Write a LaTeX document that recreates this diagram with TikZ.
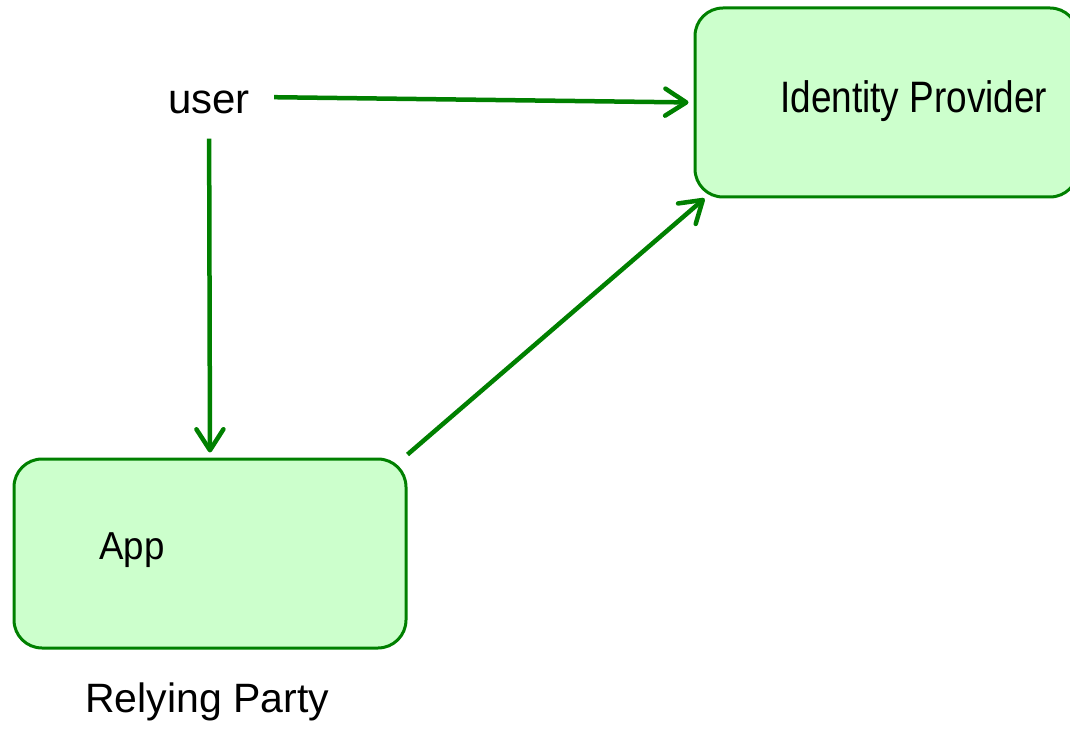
\documentclass[tikz,border=0pt]{standalone}
\usepackage{fontspec}
\setmainfont{Liberation Sans}
\usetikzlibrary{arrows.meta}
\definecolor{boxgreen}{RGB}{0,128,0}
\definecolor{boxfill}{RGB}{204,255,204}
\tikzset{
	party/.style={draw=boxgreen, fill=boxfill, line width=3pt, rounded corners=28pt, minimum height=189pt},
	lbl/.style={inner sep=0pt, anchor=base west, font=\fontsize{41}{48}\selectfont},
	flow/.style={draw=boxgreen, line width=4.5pt, -{Straight Barb[length=21pt,width=27pt,line cap=round,line join=round]}},
}
\begin{document}
\begin{tikzpicture}[x=1pt,y=-1pt]
	\useasboundingbox (0,0) rectangle (1070,735);
	\node[party, minimum width=392pt] (app) at (210,553.5) {};
	\node[party, minimum width=383pt] (idp) at (886.5,102.5) {};

	\node[lbl, font=\fontsize{42}{50}\selectfont] (user) at (168,114) {user};
	\node[lbl, xscale=.94, font=\fontsize{39}{46}\selectfont] (applbl) at (99,559) {App};
	\node[lbl, xscale=.84, font=\fontsize{44}{52}\selectfont] (idplbl) at (780,113) {Identity Provider};
	\node[lbl] (rp) at (85,712) {Relying Party};

	\draw[flow, shorten <=24pt, shorten >=5pt] ([yshift=6]user.east) -- (idp.west);
	\draw[flow, shorten <=24pt, shorten >=5pt] (user.south) -- (app.north);
	\draw[flow] ([yshift=3]app.north east) -- ([xshift=11]idp.south west);
\end{tikzpicture}
\end{document}
